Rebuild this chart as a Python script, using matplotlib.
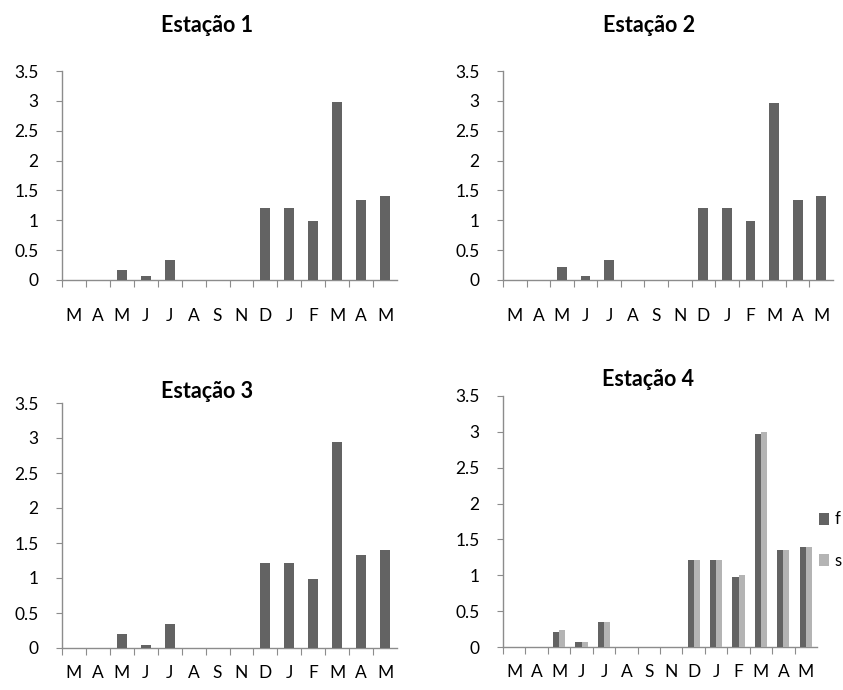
import matplotlib
matplotlib.use("Agg")
import matplotlib.pyplot as plt
import numpy as np

plt.rcParams['font.family'] = ['Lato', 'DejaVu Sans']

months = ["M", "A", "M", "J", "J", "A", "S", "N", "D", "J", "F", "M", "A", "M"]
est1 = [0, 0, 0.17, 0.06, 0.34, 0, 0, 0, 1.21, 1.21, 0.98, 2.98, 1.34, 1.40]
est2 = [0, 0, 0.21, 0.06, 0.34, 0, 0, 0, 1.21, 1.21, 0.98, 2.96, 1.34, 1.40]
est3 = [0, 0, 0.20, 0.05, 0.34, 0, 0, 0, 1.22, 1.22, 0.98, 2.95, 1.33, 1.40]
est4_f = [0, 0, 0.21, 0.07, 0.35, 0, 0, 0, 1.22, 1.22, 0.98, 2.97, 1.35, 1.40]
est4_s = [0, 0, 0.24, 0.07, 0.35, 0, 0, 0, 1.22, 1.22, 1.00, 3.00, 1.35, 1.40]
titles = ["Estação 1", "Estação 2", "Estação 3", "Estação 4"]
yticks = [0, 0.5, 1, 1.5, 2, 2.5, 3, 3.5]
ytick_labels = ["0", "0.5", "1", "1.5", "2", "2.5", "3", "3.5"]

DARK = "#636363"
LIGHT = "#b4b4b4"
AXC = "#8c8c8c"

W, H = 843, 690
fig = plt.figure(figsize=(W / 100, H / 100), dpi=100)

def rect(l, r, b, t):
    return [l / W, 1 - b / H, (r - l) / W, (b - t) / H]

axes = [
    fig.add_axes(rect(62, 397, 280, 71)),
    fig.add_axes(rect(503, 833, 280, 71)),
    fig.add_axes(rect(62, 397, 648, 403)),
    fig.add_axes(rect(503, 817, 647, 396)),
]
title_pos = [(207, 25), (649, 25), (207, 392), (648, 380)]

n = len(months)
x = np.arange(n)

def style(ax, label_pad):
    ax.set_xlim(-0.5, n - 0.5)
    ax.set_ylim(0, 3.5)
    for s in ["top", "right"]:
        ax.spines[s].set_visible(False)
    for s in ["left", "bottom"]:
        ax.spines[s].set_color(AXC)
        ax.spines[s].set_linewidth(1.0)
    ax.set_yticks(yticks)
    ax.set_yticklabels(ytick_labels)
    ax.tick_params(axis="y", length=4, color=AXC, labelsize=12.5, pad=13)
    ax.set_xticks(np.arange(n) - 0.5)
    ax.set_xticklabels([])
    ax.set_xticks(x, minor=True)
    ax.set_xticklabels(months, minor=True)
    ax.tick_params(axis="x", which="major", length=5, color=AXC, direction="out")
    ax.tick_params(axis="x", which="minor", length=0, labelsize=12.5, pad=label_pad)

for ax, data in zip(axes[:3], [est1, est2, est3]):
    ax.bar(x, data, width=0.42, color=DARK, zorder=3)
style(axes[0], 20)
style(axes[1], 20)
style(axes[2], 12)

ax4 = axes[3]
bw = 0.27
ax4.bar(x - bw / 2, est4_f, width=bw, color=DARK, label="f", zorder=3)
ax4.bar(x + bw / 2, est4_s, width=bw, color=LIGHT, label="s", zorder=3)
style(ax4, 12)
fig.legend(*ax4.get_legend_handles_labels(), loc="center left",
           bbox_to_anchor=(819 / W, 1 - 540 / H), frameon=False,
           fontsize=12, handlelength=0.6, handleheight=0.7, handletextpad=0.35,
           labelspacing=1.5, borderaxespad=0.0, borderpad=0.0)

for (tx, ty), t in zip(title_pos, titles):
    fig.text(tx / W, 1 - ty / H, t, ha="center", va="center",
             fontsize=15.5, fontweight="bold")

fig.savefig("out.png", dpi=100)
